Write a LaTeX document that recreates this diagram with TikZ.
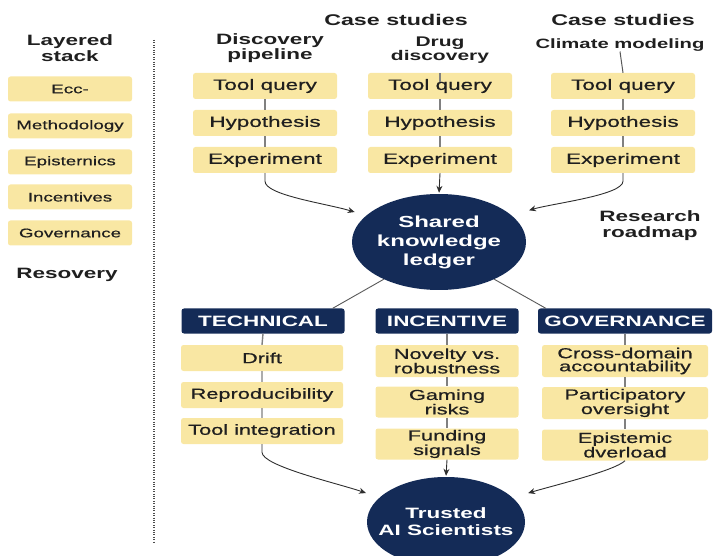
\documentclass[tikz,border=0pt]{standalone}
\usepackage{fontspec}
\setmainfont[FakeStretch=1.5, UprightFeatures={FakeBold=0.6}]{Liberation Sans}
\usetikzlibrary{shapes.geometric,arrows.meta,calc}

\definecolor{padfill}{HTML}{F9E7A3}
\definecolor{ink}{HTML}{1F1F1F}
\definecolor{navy}{HTML}{142B57}
\definecolor{wire}{HTML}{808080}
\definecolor{arrowink}{HTML}{2E2E2E}

\begin{document}
\begin{tikzpicture}[x=1pt,y=-1pt,
  every node/.style={text=ink, inner sep=0pt, align=center},
  padbox/.style={fill=padfill, rounded corners=2.5pt},
  sidebox/.style={padbox, minimum width=124pt, minimum height=25pt, font=\fontsize{12.5}{13}\selectfont},
  casebox/.style={padbox, minimum width=144pt, minimum height=26pt, font=\fontsize{15}{15}\selectfont},
  heading/.style={font=\fontsize{15}{15.5}\selectfont\bfseries},
  hub/.style={ellipse, fill=navy, text=white, inner xsep=-22pt, inner ysep=-6pt},
  band/.style={fill=navy, text=white, rounded corners=2.5pt, minimum height=25pt, font=\fontsize{15}{15}\selectfont\bfseries},
  item/.style={padbox, font=\fontsize{14.5}{13}\selectfont},
  stub/.style={draw=wire, line width=1.4pt},
  spoke/.style={draw=arrowink!80, line width=0.9pt},
  link/.style={draw=arrowink, line width=0.9pt, -{Stealth[length=7pt,width=6pt]}},
]
\useasboundingbox (0,0) rectangle (718,556);
\clip (0,0) rectangle (718,556);

% ---- left column: layered stack ----
\node[heading] (lstack) at (70,48) {Layered\\stack};
\node[sidebox] (l1) at (70,89)  {Ecc-};
\node[sidebox] (l2) at (70,126) {Methodology};
\node[sidebox] (l3) at (70,162) {Episternics};
\node[sidebox] (l4) at (70,197) {Incentives};
\node[sidebox] (l5) at (70,233) {Governance};
\node[heading] (resov) at (67,275) {Resovery};

% dotted separator
\draw[draw=black!70, line width=1.1pt, dash pattern=on 1.1pt off 1.3pt] (154,40) -- (154,542);

% ---- case study headings ----
\node[heading, font=\fontsize{15.5}{16}\selectfont\bfseries] (cs1) at (396,20) {Case studies};
\node[heading, font=\fontsize{15.5}{16}\selectfont\bfseries] (cs2) at (623,20) {Case studies};
\node[heading] (h1) at (270,48) {Discovery\\pipeline};
\node[heading, font=\fontsize{14}{14}\selectfont\bfseries] (h2) at (440,50) {Drug\\discovery};
\node[heading, font=\fontsize{13.5}{14}\selectfont\bfseries] (h3) at (620,45) {Climate modeling};

% ---- case study pipelines ----
\node[casebox] (q1) at (265,86)  {Tool query};
\node[casebox] (p1) at (265,123) {Hypothesis};
\node[casebox] (e1) at (265,160) {Experiment};
\node[casebox] (q2) at (440,86)  {Tool query};
\node[casebox] (p2) at (440,123) {Hypothesis};
\node[casebox] (e2) at (440,160) {Experiment};
\node[casebox] (q3) at (623,86)  {Tool query};
\node[casebox] (p3) at (623,123) {Hypothesis};
\node[casebox] (e3) at (623,160) {Experiment};

\draw[stub] (q1) -- (p1) (p1) -- (e1);
\draw[stub] (q2) -- (p2) (p2) -- (e2);
\draw[stub] (q3) -- (p3) (p3) -- (e3);
\draw[stub] ([yshift=-9pt]q2.north) -- (q2.north);
\draw[draw=arrowink!80, line width=1pt] (h3.south) -- (q3.north);

% ---- shared ledger ----
\node[hub, minimum width=174pt, minimum height=96pt, font=\fontsize{16}{19}\selectfont\bfseries] (ledger) at (439,242) {Shared\\knowledge\\ledger};
\node[heading, font=\fontsize{15}{16}\selectfont\bfseries] (road) at (650,226) {Research\\roadmap};

\draw[link, shorten >=12pt] (e1.south) -- ++(0,8) .. controls +(0,14) and +(-40,-12) .. (ledger.160);
\draw[link, shorten >=1pt] (e2.south) -- (ledger.north);
\draw[link, shorten >=18pt] (e3.south) -- ++(0,8) .. controls +(0,14) and +(40,-12) .. (ledger.20);

% ---- challenge bands ----
\node[band, minimum width=163pt] (tech) at (263,321) {TECHNICAL};
\node[band, minimum width=143pt] (inc)  at (447,321) {INCENTIVE};
\node[band, minimum width=174pt] (gov)  at (625,321) {GOVERNANCE};

\draw[spoke] (ledger.214) -- ([xshift=-12pt]tech.north east);
\draw[spoke] (ledger.326) -- ([xshift=8pt]gov.north west);

\node[item, minimum width=162pt, minimum height=26pt] (t1) at (262,358) {Drift};
\node[item, minimum width=162pt, minimum height=26pt] (t2) at (262,395) {Reproducibility};
\node[item, minimum width=162pt, minimum height=26pt] (t3) at (262,431) {Tool integration};

\node[item, minimum width=143pt, minimum height=32pt] (i1) at (447,361) {Novelty vs.\\robustness};
\node[item, minimum width=143pt, minimum height=31pt] (i2) at (447,402) {Gaming\\risks};
\node[item, minimum width=143pt, minimum height=31pt] (i3) at (447,444) {Funding\\signals};

\node[item, minimum width=166pt, minimum height=32pt] (g1) at (625,361) {Cross-domain\\accountability};
\node[item, minimum width=166pt, minimum height=32pt] (g2) at (625,403) {Participatory\\oversight};
\node[item, minimum width=166pt, minimum height=31pt] (g3) at (625,445) {Epistemic\\dverload};

\draw[stub] (tech.south) -- (t1.north) (t1) -- (t2) (t2) -- (t3);
\draw[stub] (inc.south) -- (i1.north) (i1) -- (i2) (i2) -- (i3);
\draw[stub] (gov.south) -- (g1.north) (g1) -- (g2) (g2) -- (g3);

% ---- trusted outcome ----
\node[hub, minimum width=158pt, minimum height=90pt, font=\fontsize{15}{17}\selectfont\bfseries] (trusted) at (446,522) {Trusted\\AI Scientists};

\draw[link, shorten >=14pt] (t3.south) -- ++(0,8) .. controls +(0,14) and +(-40,-14) .. (trusted.160);
\draw[link, shorten >=1pt] (i3.south) -- (trusted.north);
\draw[link, shorten >=16pt] (g3.south) .. controls +(-10,10) and +(40,-12) .. (trusted.20);
\end{tikzpicture}
\end{document}
